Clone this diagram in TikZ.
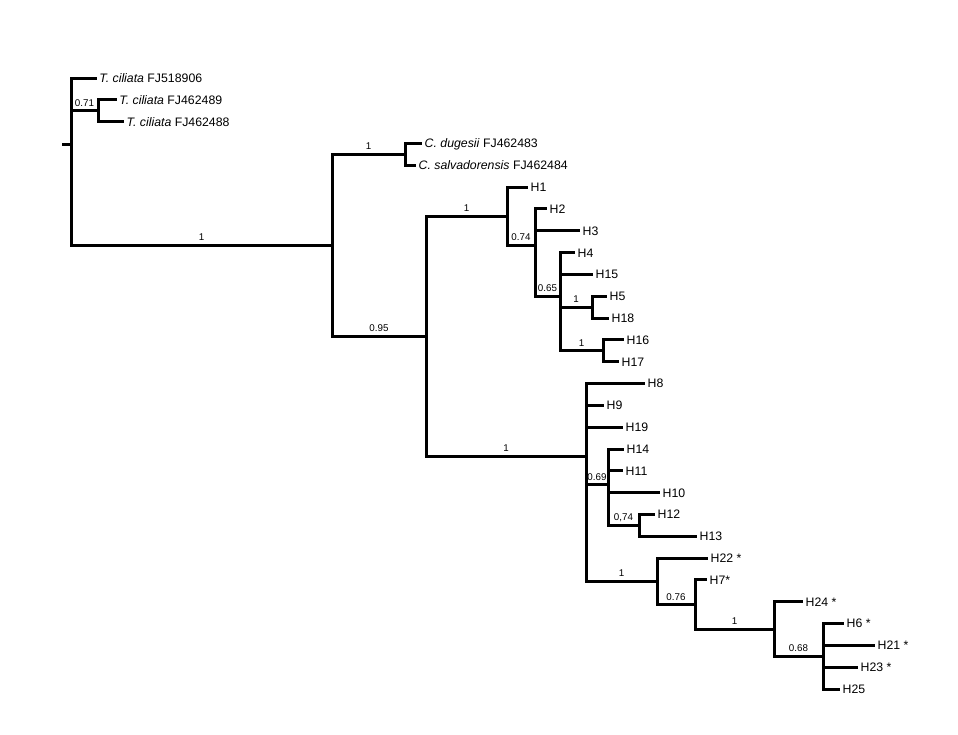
\documentclass[tikz,border=0pt]{standalone}
\usepackage{fontspec}
\setmainfont{Liberation Sans}
\begin{document}
\begin{tikzpicture}[x=1pt,y=-1pt,
  br/.style={line width=3pt, line join=miter},
  tiplab/.style={anchor=west, inner xsep=2.5pt, inner ysep=0pt, text height=8.8pt, text depth=0pt, font=\fontsize{12.3}{14}\selectfont},
  sup/.style={pos=0.75, anchor=base, yshift=4.5pt, inner sep=0pt, font=\fontsize{9.8}{11}\selectfont}]
\useasboundingbox (0,0) rectangle (958,734);
% internal nodes
\coordinate (r0) at (62,144.7);
\coordinate (root) at (71,144.7);
\coordinate (nA) at (98,110.7);
\coordinate (nD) at (332,245.4);
\coordinate (nC) at (405,154.4);
\coordinate (nB) at (426,336.3);
\coordinate (nH1) at (507,216.2);
\coordinate (nH2) at (535,245.3);
\coordinate (nH4) at (560,296.2);
\coordinate (nH5) at (592,307.1);
\coordinate (nH16) at (603,350.8);
\coordinate (nH8) at (586,456.4);
\coordinate (nH14) at (608,484.5);
\coordinate (nH12) at (639,525.4);
\coordinate (nH22) at (657,581.3);
\coordinate (nH7) at (695,604.5);
\coordinate (nH24) at (774,629.0);
\coordinate (nH6) at (823,656.3);
% tips
\node[tiplab] (t1) at (96.7,78) {\textit{T. ciliata} FJ518906};
\node[tiplab] (t2) at (116.7,99.8) {\textit{T. ciliata} FJ462489};
\node[tiplab] (t3) at (124,121.6) {\textit{T. ciliata} FJ462488};
\node[tiplab] (t4) at (422,143.5) {\textit{C. dugesii} FJ462483};
\node[tiplab] (t5) at (416,165.3) {\textit{C. salvadorensis} FJ462484};
\node[tiplab] (t6) at (528,187.1) {H1};
\node[tiplab] (t7) at (547,208.9) {H2};
\node[tiplab] (t8) at (580,230.8) {H3};
\node[tiplab] (t9) at (575,252.6) {H4};
\node[tiplab] (t10) at (593,274.4) {H15};
\node[tiplab] (t11) at (607,296.2) {H5};
\node[tiplab] (t12) at (609,318.0) {H18};
\node[tiplab] (t13) at (624,339.9) {H16};
\node[tiplab] (t14) at (619,361.7) {H17};
\node[tiplab] (t15) at (645,383.5) {H8};
\node[tiplab] (t16) at (604,405.3) {H9};
\node[tiplab] (t17) at (623,427.2) {H19};
\node[tiplab] (t18) at (624,449.0) {H14};
\node[tiplab] (t19) at (623,470.8) {H11};
\node[tiplab] (t20) at (660,492.6) {H10};
\node[tiplab] (t21) at (655,514.4) {H12};
\node[tiplab] (t22) at (697,536.3) {H13};
\node[tiplab] (t23) at (708,558.1) {H22 *};
\node[tiplab] (t24) at (707,579.9) {H7*};
\node[tiplab] (t25) at (803,601.7) {H24 *};
\node[tiplab] (t26) at (844,623.5) {H6 *};
\node[tiplab] (t27) at (875,645.4) {H21 *};
\node[tiplab] (t28) at (858,667.2) {H23 *};
\node[tiplab] (t29) at (840,689.0) {H25};
% branches
\draw[br] (r0) -- (root);
\draw[br] (root) |- (t1.west);
\draw[br] (root) |- node[sup]{0.71} (nA);
\draw[br] (nA) |- (t2.west);
\draw[br] (nA) |- (t3.west);
\draw[br] (root) |- node[sup]{1} (nD);
\draw[br] (nD) |- node[sup]{1} (nC);
\draw[br] (nC) |- (t4.west);
\draw[br] (nC) |- (t5.west);
\draw[br] (nD) |- node[sup]{0.95} (nB);
\draw[br] (nB) |- node[sup]{1} (nH1);
\draw[br] (nH1) |- (t6.west);
\draw[br] (nH1) |- node[sup]{0.74} (nH2);
\draw[br] (nH2) |- (t7.west);
\draw[br] (nH2) |- (t8.west);
\draw[br] (nH2) |- node[sup]{0.65} (nH4);
\draw[br] (nH4) |- (t9.west);
\draw[br] (nH4) |- (t10.west);
\draw[br] (nH4) |- node[sup]{1} (nH5);
\draw[br] (nH5) |- (t11.west);
\draw[br] (nH5) |- (t12.west);
\draw[br] (nH4) |- node[sup]{1} (nH16);
\draw[br] (nH16) |- (t13.west);
\draw[br] (nH16) |- (t14.west);
\draw[br] (nB) |- node[sup]{1} (nH8);
\draw[br] (nH8) |- (t15.west);
\draw[br] (nH8) |- (t16.west);
\draw[br] (nH8) |- (t17.west);
\draw[br] (nH8) |- node[sup]{0.69} (nH14);
\draw[br] (nH14) |- (t18.west);
\draw[br] (nH14) |- (t19.west);
\draw[br] (nH14) |- (t20.west);
\draw[br] (nH14) |- node[sup]{0,74} (nH12);
\draw[br] (nH12) |- (t21.west);
\draw[br] (nH12) |- (t22.west);
\draw[br] (nH8) |- node[sup]{1} (nH22);
\draw[br] (nH22) |- (t23.west);
\draw[br] (nH22) |- node[sup]{0.76} (nH7);
\draw[br] (nH7) |- (t24.west);
\draw[br] (nH7) |- node[sup]{1} (nH24);
\draw[br] (nH24) |- (t25.west);
\draw[br] (nH24) |- node[sup]{0.68} (nH6);
\draw[br] (nH6) |- (t26.west);
\draw[br] (nH6) |- (t27.west);
\draw[br] (nH6) |- (t28.west);
\draw[br] (nH6) |- (t29.west);
\end{tikzpicture}
\end{document}
